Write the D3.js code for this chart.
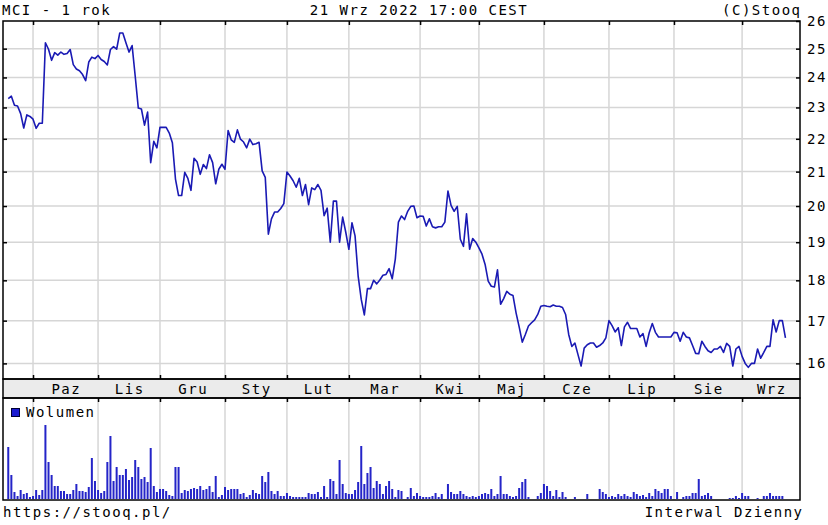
<!DOCTYPE html>
<html>
<head>
<meta charset="utf-8">
<script src="https://cdn.jsdelivr.net/npm/d3@7"></script>
<style>
  body { margin: 0; background: #fff; }
  text { font-family: "DejaVu Sans Mono", monospace; font-size: 14px; letter-spacing: 1.5px; fill: #000; }
</style>
</head>
<body>
<svg id="chart" width="828" height="525"></svg>
<script>
// daily closes, MCI, 1 year up to 21 Wrz 2022 (one value per session)
var closes = [
  23.29,23.37,23.07,23.05,22.80,22.34,22.76,22.71,22.62,22.33,
  22.49,22.49,25.21,24.98,24.59,24.86,24.77,24.88,24.80,24.83,
  24.97,24.44,24.29,24.23,24.10,23.89,24.53,24.70,24.65,24.76,
  24.62,24.55,24.43,24.97,25.07,24.98,25.56,25.56,25.21,24.88,
  25.11,24.04,22.98,22.95,22.43,22.85,21.27,21.92,21.72,22.36,
  22.36,22.36,22.18,21.88,20.78,20.30,20.30,20.98,20.80,20.45,
  21.40,21.29,20.92,21.21,21.09,21.51,21.27,20.64,21.07,21.22,
  21.07,22.26,21.97,21.89,22.28,21.99,21.90,21.72,21.99,21.82,
  21.85,21.89,21.02,20.83,19.22,19.64,19.83,19.83,19.93,20.07,
  20.99,20.87,20.73,20.54,20.80,20.30,20.62,20.04,20.52,20.47,
  20.62,20.45,19.73,19.94,19.00,20.14,20.14,19.00,19.69,19.27,
  18.81,19.53,19.17,18.11,17.52,17.14,17.79,17.79,18.00,17.91,
  18.01,18.13,18.15,18.30,18.04,18.55,19.55,19.72,19.62,19.85,
  19.99,20.00,19.67,19.72,19.71,19.44,19.64,19.42,19.39,19.42,
  19.42,19.55,20.43,20.02,19.85,19.99,19.08,18.89,19.78,18.81,
  19.10,19.00,18.85,18.68,18.41,17.98,17.85,17.83,18.27,17.40,
  17.54,17.72,17.65,17.62,17.19,16.85,16.49,16.67,16.87,16.95,
  17.02,17.15,17.35,17.37,17.35,17.34,17.38,17.35,17.35,17.32,
  17.15,16.67,16.39,16.47,16.20,15.94,16.35,16.43,16.47,16.47,
  16.37,16.41,16.47,16.59,17.00,16.88,16.73,16.83,16.41,16.85,
  16.96,16.81,16.81,16.81,16.61,16.69,16.39,16.71,16.93,16.72,
  16.61,16.61,16.61,16.61,16.61,16.72,16.71,16.51,16.72,16.61,
  16.59,16.41,16.23,16.22,16.51,16.39,16.29,16.25,16.33,16.33,
  16.39,16.25,16.46,16.39,15.94,16.33,16.39,16.16,16.00,15.91,
  16.00,16.00,16.33,16.12,16.25,16.39,16.39,17.02,16.73,17.00,
  17.00,16.59
];

// volume per session (thousands)
var volumes = [
  52,24,7,3,9,5,6,2,3,9,
  4,9,74,37,24,13,13,8,8,5,
  5,9,15,8,8,7,12,41,18,9,
  6,8,37,63,18,32,24,24,30,19,
  22,39,32,20,22,17,51,13,7,10,
  10,8,4,3,32,32,6,9,8,10,
  11,10,13,9,10,13,7,23,2,4,
  12,9,10,10,10,5,6,2,4,9,
  6,5,23,17,27,8,5,8,3,3,
  6,3,2,2,2,2,2,6,5,5,
  7,2,13,2,20,18,5,39,15,6,
  5,5,9,17,53,15,26,32,11,18,
  15,5,13,18,10,2,9,8,0,2,
  11,3,6,3,2,2,2,3,6,2,
  5,0,15,7,5,5,8,5,3,2,
  3,2,3,5,6,5,10,3,5,23,
  5,5,3,2,3,11,17,20,2,0,
  0,3,6,15,13,8,3,9,2,7,
  2,0,0,2,0,0,0,5,0,0,
  0,10,7,5,2,3,2,5,3,5,
  3,2,7,5,3,4,2,6,3,10,
  8,6,10,10,3,0,7,0,2,3,
  3,6,6,20,3,4,6,3,0,0,
  0,0,0,1,1,3,1,6,3,3,
  0,0,1,0,3,3,6,3,3,3,
  3,0
];

var monthNames = ["Paz","Lis","Gru","Sty","Lut","Mar","Kwi","Maj","Cze","Lip","Sie","Wrz"];
var monthStarts = [8,29,49,70,90,110,133,152,173,194,215,237];   // session index of 1st day
var priceTicks = [16,17,18,19,20,21,22,23,24,25,26];

var left = 3, right = 800;
var pTop = 21, pBot = 379, bandBot = 398, vBot = 500;

var svg = d3.select("#chart");

var x = d3.scaleLinear().domain([-1.7, 255.7]).range([left, right]);
var y = d3.scaleLog().domain([15.65, 26]).range([pBot, pTop]);
var yv = d3.scaleLinear().domain([0, 100]).range([vBot - 1, bandBot + 1]);

// date band
svg.append("rect")
  .attr("x", left).attr("y", pBot)
  .attr("width", right - left).attr("height", bandBot - pBot)
  .attr("fill", "#ebebeb");

// grid
var grid = svg.append("g").attr("stroke", "#d6d6d6").attr("stroke-width", 1.5);
grid.selectAll(".hg").data(priceTicks.slice(0, -1)).enter().append("line")
  .attr("x1", left).attr("x2", right)
  .attr("y1", function (d) { return y(d) }).attr("y2", function (d) { return y(d) });
grid.selectAll(".vg").data(monthStarts).enter().append("line")
  .attr("x1", function (d) { return x(d) }).attr("x2", function (d) { return x(d) })
  .attr("y1", pTop).attr("y2", pBot);
grid.selectAll(".vv").data(monthStarts).enter().append("line")
  .attr("x1", function (d) { return x(d) }).attr("x2", function (d) { return x(d) })
  .attr("y1", bandBot).attr("y2", vBot);

// volume bars
svg.append("g").selectAll("rect")
  .data(volumes)
  .enter().append("rect")
  .attr("x", function (d, i) { return x(i) - 1 })
  .attr("width", 2)
  .attr("y", function (d) { return yv(d) })
  .attr("height", function (d) { return yv(0) - yv(d) })
  .attr("fill", "#2424c8");

// price line
var line = d3.line()
  .x(function (d, i) { return x(i) })
  .y(function (d) { return y(d) });
svg.append("path")
  .datum(closes)
  .attr("d", line)
  .attr("fill", "none")
  .attr("stroke", "#1a1ab4")
  .attr("stroke-width", 1.6)
  .attr("stroke-linejoin", "round");

// frames
var frame = svg.append("g").attr("fill", "none").attr("stroke", "#000").attr("stroke-width", 1.5);
frame.append("rect").attr("x", left).attr("y", pTop).attr("width", right - left).attr("height", pBot - pTop);
frame.append("rect").attr("x", left).attr("y", pBot).attr("width", right - left).attr("height", bandBot - pBot);
frame.append("rect").attr("x", left).attr("y", bandBot).attr("width", right - left).attr("height", vBot - bandBot);

function clean(g) {
  g.select(".domain").remove();
  g.selectAll(".tick line").attr("stroke", "#000").attr("stroke-width", 1.5);
}

// price axis, labels on the right
svg.append("g")
  .attr("transform", "translate(" + right + ",0)")
  .call(d3.axisRight(y).tickValues(priceTicks).tickFormat(d3.format("d")).tickSize(-4).tickPadding(7))
  .call(clean);
// small ticks on left edge
svg.append("g")
  .attr("transform", "translate(" + left + ",0)")
  .call(d3.axisRight(y).tickValues(priceTicks.slice(0, -1)).tickFormat("").tickSize(4))
  .call(clean);

// month ticks
svg.append("g").attr("transform", "translate(0," + pTop + ")")
  .call(d3.axisBottom(x).tickValues(monthStarts).tickFormat("").tickSize(4)).call(clean);
svg.append("g").attr("transform", "translate(0," + pBot + ")")
  .call(d3.axisTop(x).tickValues(monthStarts).tickFormat("").tickSize(4)).call(clean);
svg.append("g").attr("transform", "translate(0," + bandBot + ")")
  .call(d3.axisBottom(x).tickValues(monthStarts).tickFormat("").tickSize(4)).call(clean);

// month labels centred in their segment
svg.append("g").selectAll("text")
  .data(monthNames)
  .enter().append("text")
  .attr("x", function (d, i) {
    var a = x(monthStarts[i]);
    var b = i + 1 < monthStarts.length ? x(monthStarts[i + 1]) : right;
    return (a + b) / 2 + 0.75;
  })
  .attr("y", 394)
  .attr("text-anchor", "middle")
  .text(function (d) { return d });

// header
svg.append("text").attr("x", 2).attr("y", 15).text("MCI - 1 rok");
svg.append("text").attr("x", 419).attr("y", 15).attr("text-anchor", "middle").text("21 Wrz 2022 17:00 CEST");
svg.append("text").attr("x", 801.5).attr("y", 15).attr("text-anchor", "end").text("(C)Stooq");

// legend
svg.append("rect").attr("x", 11.5).attr("y", 408.5).attr("width", 8).attr("height", 8)
  .attr("fill", "#1a1ad0").attr("stroke", "#000033").attr("stroke-width", 1);
svg.append("text").attr("x", 26).attr("y", 417).text("Wolumen");

// footer
svg.append("text").attr("x", 3).attr("y", 517).text("https://stooq.pl/");
svg.append("text").attr("x", 803.5).attr("y", 517).attr("text-anchor", "end").text("Interwal Dzienny");
</script>
</body>
</html>
